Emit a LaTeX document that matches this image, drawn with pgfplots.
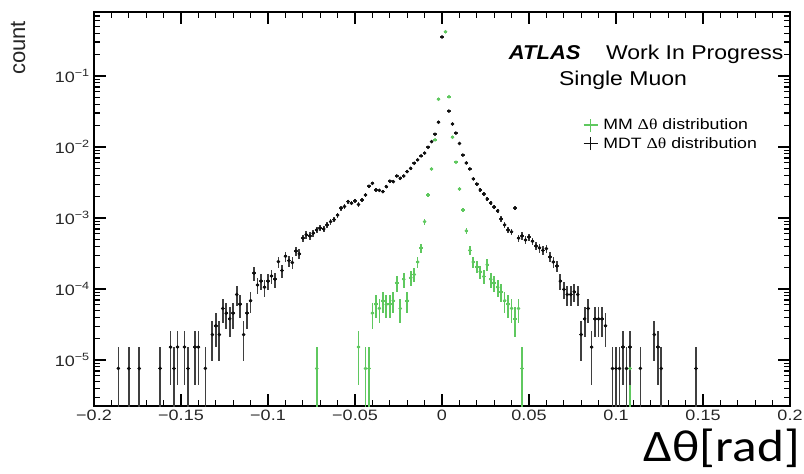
\documentclass[border=0pt]{standalone}
\usepackage{pgfplots}
\pgfplotsset{compat=1.18}
\usepackage{pgfplotstable}
\usepackage{graphicx}
\usepackage{fontspec}
\setmainfont{Liberation Sans}
\newfontfamily\sym{Liberation Serif}
\newfontfamily\carlito{Carlito}
\definecolor{mmgreen}{RGB}{95,200,95}
\definecolor{mdtblack}{RGB}{15,15,15}

\pgfplotstableread{
x y ey
-0.186 7.6e-6 7.5e-6
-0.180 7.6e-6 7.5e-6
-0.174 7.6e-6 7.5e-6
-0.162 7.6e-6 7.5e-6
-0.156 1.52e-5 1.07e-5
-0.154 7.6e-6 7.5e-6
-0.152 1.52e-5 1.07e-5
-0.148 1.52e-5 1.07e-5
-0.146 7.6e-6 7.5e-6
-0.142 1.52e-5 1.07e-5
-0.140 1.52e-5 1.07e-5
-0.136 7.6e-6 7.5e-6
-0.132 2.28e-5 1.32e-5
-0.130 3.04e-5 1.52e-5
-0.128 2.28e-5 1.32e-5
-0.126 5.32e-5 2.01e-5
-0.124 4.56e-5 1.86e-5
-0.122 3.8e-5 1.7e-5
-0.120 4.56e-5 1.86e-5
-0.118 8.36e-5 2.52e-5
-0.116 6.08e-5 2.15e-5
-0.114 2.28e-5 1.32e-5
-0.112 4.56e-5 1.86e-5
-0.110 6.84e-5 2.28e-5
-0.108 1.67e-4 3.56e-5
-0.106 1.14e-4 2.94e-5
-0.104 1.29e-4 3.13e-5
-0.102 1.06e-4 2.84e-5
-0.100 1.29e-4 3.13e-5
-0.098 1.52e-4 3.4e-5
-0.096 1.37e-4 3.22e-5
-0.094 2.43e-4 4.3e-5
-0.092 1.82e-4 3.72e-5
-0.090 2.89e-4 4.69e-5
-0.088 2.51e-4 4.37e-5
-0.086 2.36e-4 4.23e-5
-0.084 3.42e-4 5.1e-5
-0.082 3.12e-4 4.87e-5
-0.080 5.2e-4 6.3e-5
-0.078 5.8e-4 6.6e-5
-0.076 5.6e-4 6.5e-5
-0.074 6.1e-4 6.8e-5
-0.072 6.8e-4 7.2e-5
-0.070 7.2e-4 7.4e-5
-0.068 7.0e-4 7.3e-5
-0.066 8.0e-4 7.8e-5
-0.064 8.9e-4 8.2e-5
-0.062 9.5e-4 8.5e-5
-0.060 1.10e-3 9.1e-5
-0.058 1.37e-3 1.02e-4
-0.056 1.45e-3 1.05e-4
-0.054 1.70e-3 1.14e-4
-0.052 1.61e-3 1.1e-4
-0.050 1.75e-3 1.15e-4
-0.048 1.55e-3 1.09e-4
-0.046 1.79e-3 1.17e-4
-0.044 2.11e-3 1.27e-4
-0.042 2.8e-3 1.46e-4
-0.040 3.08e-3 1.53e-4
-0.038 2.48e-3 1.37e-4
-0.036 2.45e-3 1.36e-4
-0.034 2.35e-3 1.34e-4
-0.032 2.76e-3 1.45e-4
-0.030 3.3e-3 1.58e-4
-0.028 3.25e-3 1.57e-4
-0.026 3.9e-3 1.72e-4
-0.024 3.62e-3 1.66e-4
-0.022 3.9e-3 1.72e-4
-0.020 4.5e-3 1.85e-4
-0.018 5.0e-3 1.95e-4
-0.016 5.9e-3 2.1e-4
-0.014 6.6e-3 2.2e-4
-0.012 7.5e-3 2.4e-4
-0.010 8.2e-3 2.5e-4
-0.008 9.9e-3 2.7e-4
-0.006 1.19e-2 3.0e-4
-0.004 1.51e-2 3.4e-4
-0.002 2.23e-2 4.1e-4
0.000 0.355 1.6e-3
0.004 0.032 4.9e-4
0.006 0.0211 4.0e-4
0.008 0.0157 3.5e-4
0.010 0.0112 2.9e-4
0.012 0.0077 2.4e-4
0.014 0.00595 2.1e-4
0.016 0.0049 1.9e-4
0.018 0.00355 1.6e-4
0.020 0.00301 1.5e-4
0.022 0.00248 1.37e-4
0.024 0.00218 1.29e-4
0.026 0.00185 1.19e-4
0.028 0.00163 1.11e-4
0.030 0.00143 1.04e-4
0.032 0.00126 9.8e-5
0.034 0.00097 8.6e-5
0.036 0.00080 7.8e-5
0.038 0.00068 7.2e-5
0.040 0.00064 7.0e-5
0.042 0.00138 1.02e-4
0.044 0.00052 6.3e-5
0.046 0.00056 6.5e-5
0.048 0.00049 6.1e-5
0.050 0.00054 6.4e-5
0.052 0.00047 6.0e-5
0.054 0.000404 5.5e-5
0.056 0.00038 5.4e-5
0.058 0.00035 5.2e-5
0.060 0.00037 5.3e-5
0.062 0.000283 4.6e-5
0.064 0.00024 4.3e-5
0.066 0.000211 4.0e-5
0.068 0.000129 3.13e-5
0.070 0.0000988 2.74e-5
0.072 8.36e-5 2.52e-5
0.074 8.36e-5 2.52e-5
0.076 9.12e-5 2.63e-5
0.078 8.36e-5 2.52e-5
0.080 2.28e-5 1.32e-5
0.082 3.8e-5 1.7e-5
0.084 5.32e-5 2.01e-5
0.086 1.52e-5 1.07e-5
0.088 3.8e-5 1.7e-5
0.090 3.8e-5 1.7e-5
0.092 3.8e-5 1.7e-5
0.094 3.04e-5 1.52e-5
0.098 7.6e-6 7.5e-6
0.100 7.6e-6 7.5e-6
0.102 7.6e-6 7.5e-6
0.104 1.52e-5 1.07e-5
0.106 7.6e-6 7.5e-6
0.108 1.52e-5 1.07e-5
0.114 7.6e-6 7.5e-6
0.122 2.28e-5 1.32e-5
0.124 1.52e-5 1.07e-5
0.126 7.6e-6 7.5e-6
0.146 7.6e-6 7.5e-6
}\mdt

\pgfplotstableread{
x y ey
-0.072 7.6e-6 7.5e-6
-0.048 1.52e-5 1.07e-5
-0.044 7.6e-6 7.5e-6
-0.042 7.6e-6 7.5e-6
-0.040 4.56e-5 1.86e-5
-0.038 6.08e-5 2.15e-5
-0.036 5.32e-5 2.01e-5
-0.034 6.84e-5 2.28e-5
-0.032 6.08e-5 2.15e-5
-0.030 6.08e-5 2.15e-5
-0.028 6.84e-5 2.28e-5
-0.026 1.22e-4 3.04e-5
-0.024 5.32e-5 2.01e-5
-0.022 1.37e-4 3.22e-5
-0.020 6.84e-5 2.28e-5
-0.018 1.44e-4 3.31e-5
-0.016 1.6e-4 3.5e-5
-0.014 2.4e-4 4.3e-5
-0.012 3.8e-4 5.4e-5
-0.010 8.9e-4 8.2e-5
-0.008 2.1e-3 1.26e-4
-0.006 4.9e-3 1.93e-4
-0.004 1.26e-2 3.1e-4
-0.002 4.7e-2 6.0e-4
0.002 0.42 1.8e-3
0.004 5.1e-2 6.2e-4
0.006 1.37e-2 3.2e-4
0.008 6.1e-3 2.15e-4
0.010 2.56e-3 1.4e-4
0.012 1.30e-3 9.9e-5
0.014 6.6e-4 7.1e-5
0.016 3.5e-4 5.2e-5
0.018 2.4e-4 4.3e-5
0.020 2.05e-4 3.95e-5
0.022 1.75e-4 3.65e-5
0.024 1.5e-4 3.38e-5
0.026 2.2e-4 4.1e-5
0.028 1.37e-4 3.22e-5
0.030 1.22e-4 3.04e-5
0.032 1.06e-4 2.84e-5
0.034 9.12e-5 2.63e-5
0.036 6.84e-5 2.28e-5
0.038 6.08e-5 2.15e-5
0.040 5.32e-5 2.01e-5
0.042 3.8e-5 1.7e-5
0.044 5.32e-5 2.01e-5
0.046 7.6e-6 7.5e-6
0.108 7.6e-6 7.5e-6
}\mm

\begin{document}
\begin{tikzpicture}
\begin{axis}[
  scale only axis,
  width=696pt, height=394pt,
  xmin=-0.2, xmax=0.2,
  ymode=log, ymin=2.25e-6, ymax=0.796,
  xtick={-0.2,-0.15,-0.1,-0.05,0,0.05,0.1,0.15,0.2},
  xticklabels={−0.2,−0.15,−0.1,−0.05,0,0.05,0.1,0.15,0.2},
  minor x tick num=4,
  ytick={1e-5,1e-4,1e-3,1e-2,1e-1},
  yticklabels={10\textsuperscript{−5},10\textsuperscript{−4},10\textsuperscript{−3},10\textsuperscript{−2},10\textsuperscript{−1}},
  minor ytick={3e-6,4e-6,5e-6,6e-6,7e-6,8e-6,9e-6,
    2e-5,3e-5,4e-5,5e-5,6e-5,7e-5,8e-5,9e-5,
    2e-4,3e-4,4e-4,5e-4,6e-4,7e-4,8e-4,9e-4,
    2e-3,3e-3,4e-3,5e-3,6e-3,7e-3,8e-3,9e-3,
    2e-2,3e-2,4e-2,5e-2,6e-2,7e-2,8e-2,9e-2,
    2e-1,3e-1,4e-1,5e-1,6e-1,7e-1},
  major tick length=12pt, minor tick length=6pt,
  tick style={black, line width=1.2pt},
  axis line style={black, line width=1.8pt},
  xticklabel style={font=\fontsize{15}{15}\selectfont, xscale=1.2, text=black!85},
  yticklabel style={font=\fontsize{15}{15}\selectfont, xscale=1.2, text=black!85},
  legend style={at={(0.702,0.734)}, anchor=north west, draw=none, fill=none,
    font=\fontsize{15}{18}\selectfont, row sep=2pt, inner sep=0pt},
  legend cell align=left,
]
\addplot[only marks, mark=*, mark size=1.6pt, color=mmgreen,
  legend image code/.code={\draw[mmgreen,line width=1.5pt] (0pt,0pt) -- (14pt,0pt); \draw[mmgreen,line width=1.5pt] (7pt,-6.5pt) -- (7pt,6.5pt);},
  error bars/.cd, y dir=both, y explicit, x dir=both, x fixed=0.001,
  error mark=none, error bar style={line width=1.7pt, color=mmgreen}]
  table[x=x, y=y, y error=ey] {\mm};
\addlegendentry{\hspace{3pt}\scalebox{1.18}[1]{MM {\sym Δθ} distribution}}
\addplot[only marks, mark=*, mark size=1.6pt, color=mdtblack,
  legend image code/.code={\draw[mdtblack,line width=1.5pt] (0pt,0pt) -- (14pt,0pt); \draw[mdtblack,line width=1.5pt] (7pt,-6.5pt) -- (7pt,6.5pt);},
  error bars/.cd, y dir=both, y explicit, x dir=both, x fixed=0.001,
  error mark=none, error bar style={line width=1.7pt, color=mdtblack!80}]
  table[x=x, y=y, y error=ey] {\mdt};
\addlegendentry{\hspace{3pt}\scalebox{1.18}[1]{MDT {\sym Δθ} distribution}}
\end{axis}
\node[anchor=base west, font=\fontsize{20}{20}\selectfont\bfseries\itshape, xscale=1.1]
  at ([shift={(411pt,-47.3pt)}]current axis.north west) {ATLAS};
\node[anchor=base west, font=\fontsize{20}{20}\selectfont, xscale=1.15]
  at ([shift={(508pt,-47.3pt)}]current axis.north west) {Work In Progress};
\node[anchor=base west, font=\fontsize{20}{20}\selectfont, xscale=1.15]
  at ([shift={(461pt,-73.7pt)}]current axis.north west) {Single Muon};
\node[rotate=90, font=\fontsize{22}{22}\selectfont, text=black!85]
  at ([shift={(-76pt,-36pt)}]current axis.north west) {count};
\node[anchor=base east, font=\fontsize{45}{45}\selectfont\carlito, inner sep=0pt, xscale=1.14]
  at ([shift={(10pt,-55pt)}]current axis.south east) {Δθ[rad]};
\pgfresetboundingbox
\path ([shift={(-94pt,-67pt)}]current axis.south west) rectangle ([shift={(14pt,12pt)}]current axis.north east);
\end{tikzpicture}
\end{document}
